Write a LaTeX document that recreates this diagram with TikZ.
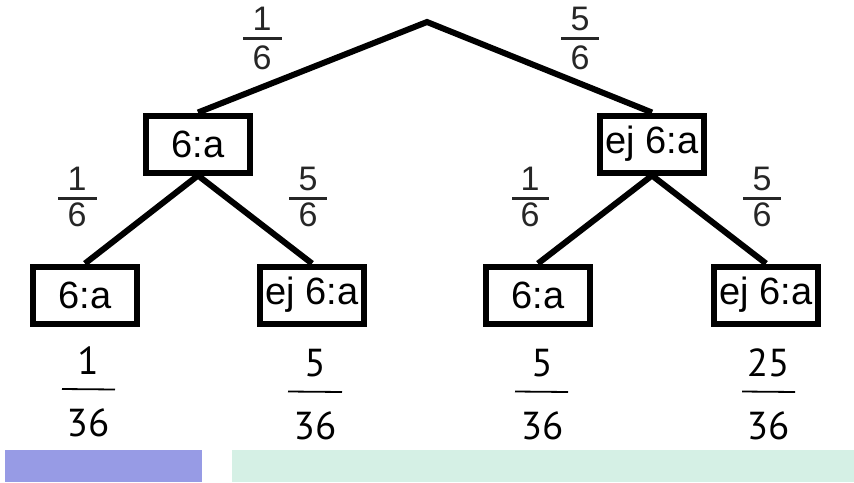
\documentclass[tikz,border=0pt]{standalone}
\usepackage{fontspec}
\setmainfont{Liberation Sans}
\newfontfamily\resultfont{PT Sans}
\begin{document}
\begin{tikzpicture}[x=1pt,y=-1pt,
  outcome/.style={draw=black,line width=6pt,inner sep=0pt,minimum width=104pt,minimum height=57pt,font=\fontsize{38}{44}\selectfont},
  branch/.style={line width=6pt,line join=miter},
  prob/.style={inner sep=0pt,font=\fontsize{34}{38}\selectfont,text=black!85},
  probbar/.style={line width=3pt,black!85},
  result/.style={inner sep=0pt,font=\resultfont\fontsize{39}{44}\selectfont},
  resultbar/.style={line width=1.8pt}]
\useasboundingbox (0,0) rectangle (854,482);

% tree
\coordinate (root) at (427,22);
\node[outcome] (a) at (198,144) {6:a};
\node[outcome] (b) at (652,144) {ej 6:a};
\node[outcome] (aa) at (85,295) {6:a};
\node[outcome] (ab) at (312,295) {ej 6:a};
\node[outcome] (ba) at (538,295) {6:a};
\node[outcome] (bb) at (766,295) {ej 6:a};

\draw[branch] (a.north) -- (root) -- (b.north);
\draw[branch] (aa.north) -- (a.south) -- (ab.north);
\draw[branch] (ba.north) -- (b.south) -- (bb.north);

% branch probabilities
\node[prob] (p1n) at (262,18.5) {1};
\node[prob] (p1d) at (262,57.5) {6};
\draw[probbar] (243,38) -- (282,38);
\node[prob] (p2n) at (580,18.5) {5};
\node[prob] (p2d) at (580,57.5) {6};
\draw[probbar] (561,38) -- (599,38);

\node[prob] (p3n) at (77,178.5) {1};
\node[prob] (p3d) at (77,215) {6};
\draw[probbar] (58,198) -- (97,198);
\node[prob] (p4n) at (308,178.5) {5};
\node[prob] (p4d) at (308,215) {6};
\draw[probbar] (289,198) -- (327,198);
\node[prob] (p5n) at (530,178.5) {1};
\node[prob] (p5d) at (530,215) {6};
\draw[probbar] (512,198) -- (549,198);
\node[prob] (p6n) at (762,178.5) {5};
\node[prob] (p6d) at (762,215) {6};
\draw[probbar] (743,198) -- (781,198);

% outcome probabilities
\node[result] (r1n) at (88,361) {1};
\node[result] (r1d) at (88,423) {36};
\draw[resultbar] (62,389) -- (115,389.5);
\node[result] (r2n) at (315,363) {5};
\node[result] (r2d) at (315,426) {36};
\draw[resultbar] (288,391.5) -- (342,392);
\node[result] (r3n) at (542,363) {5};
\node[result] (r3d) at (542,426) {36};
\draw[resultbar] (515,391.5) -- (568,392);
\node[result] (r4n) at (768,363) {25};
\node[result] (r4d) at (768,426) {36};
\draw[resultbar] (742,391.5) -- (795,392);

% grouping bars
\fill[fill={rgb,255:red,151;green,155;blue,229}] (5,450) rectangle (202,482);
\fill[fill={rgb,255:red,213;green,240;blue,229}] (232,450) rectangle (854,482);
\end{tikzpicture}
\end{document}
